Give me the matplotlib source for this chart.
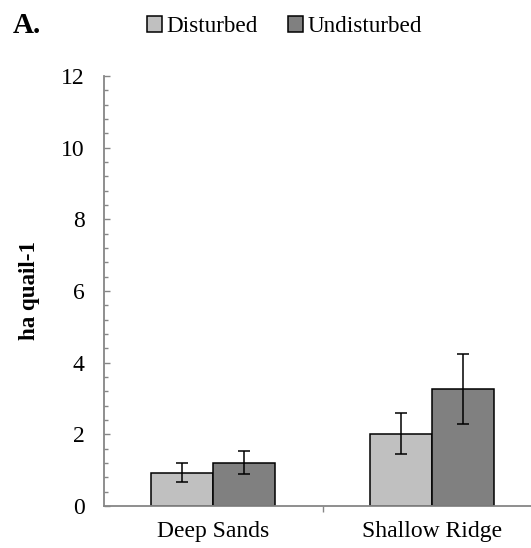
import matplotlib.pyplot as plt
import numpy as np
from matplotlib.patches import Patch
from matplotlib.ticker import MultipleLocator

plt.rcParams['font.family'] = ['Liberation Serif', 'DejaVu Serif']

sites = ['Deep Sands', 'Shallow Ridge']
disturbed = [0.93, 2.02]
disturbed_err = [0.26, 0.58]
undisturbed = [1.21, 3.27]
undisturbed_err = [0.33, 0.97]

light = '#c0c0c0'
dark = '#808080'
axis_grey = '#868686'

fig = plt.figure(figsize=(5.31, 5.48), dpi=100)
ax = fig.add_axes([0.196, 0.0766, 0.823, 0.785])

x = np.arange(len(sites))
w = 0.283
err_kw = dict(ecolor='black', elinewidth=1.1, capsize=4, capthick=1.1)
ax.bar(x - w / 2, disturbed, w, yerr=disturbed_err, color=light,
       edgecolor='black', linewidth=1.1, error_kw=err_kw)
ax.bar(x + w / 2, undisturbed, w, yerr=undisturbed_err, color=dark,
       edgecolor='black', linewidth=1.1, error_kw=err_kw)

ax.set_xlim(-0.5, 1.5)
ax.set_ylim(0, 12)
ax.set_xticks(x)
ax.set_xticklabels(sites)
ax.set_xticks([0.5], minor=True)
ax.tick_params(axis='x', which='major', length=0, pad=11, labelsize=17)
ax.tick_params(axis='x', which='minor', length=4, width=1, color=axis_grey,
               direction='out')

ax.yaxis.set_major_locator(MultipleLocator(2))
ax.yaxis.set_minor_locator(MultipleLocator(0.4))
ax.tick_params(axis='y', which='major', direction='in', length=4.5, width=1,
               color=axis_grey, pad=14, labelsize=17)
ax.tick_params(axis='y', which='minor', direction='in', length=3, width=1,
               color=axis_grey)

for side in ['top', 'right']:
    ax.spines[side].set_visible(False)
for side in ['left', 'bottom']:
    ax.spines[side].set_color(axis_grey)
    ax.spines[side].set_linewidth(1.3)

ax.set_ylabel('ha quail-1', fontsize=16.5, fontweight='bold')
ax.yaxis.set_label_coords(-0.146, 0.5)

handles = [Patch(facecolor=light, edgecolor='black', linewidth=1.1),
           Patch(facecolor=dark, edgecolor='black', linewidth=1.1)]
fig.legend(handles, ['Disturbed', 'Undisturbed'], loc='center',
           bbox_to_anchor=(0.536, 0.951), ncol=2, frameon=False,
           fontsize=16.7, handlelength=0.65, handleheight=0.65,
           handletextpad=0.2, columnspacing=1.3)

fig.text(0.024, 0.978, 'A.', fontsize=21, fontweight='bold', va='top')

fig.savefig('out.png', dpi=100)
